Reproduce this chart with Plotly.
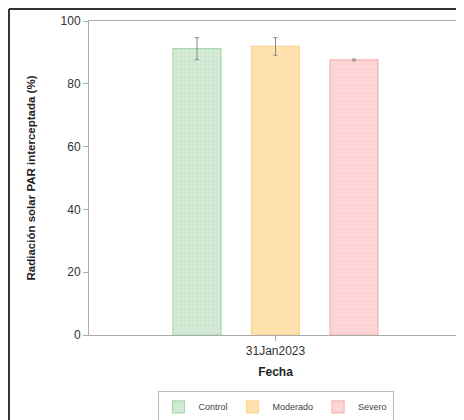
import plotly.graph_objects as go

fecha = ["31Jan2023"]
tratamientos = ["Control", "Moderado", "Severo"]
valores = [91.2, 91.9, 87.6]
errores = [3.5, 2.8, 0.3]
relleno = ["#cfe8d1", "#fee0a8", "#fdd2d3"]
borde = ["#a8d7ad", "#fcd596", "#f6b3b5"]

fig = go.Figure()
for t, v, e, c, b in zip(tratamientos, valores, errores, relleno, borde):
    fig.add_trace(go.Bar(
        x=fecha, y=[v], name=t,
        marker=dict(color=c, line=dict(color=b, width=1.2),
                    pattern=dict(shape=".", size=4, solidity=0.12, fgcolor="#ffffff", fillmode="overlay")),
        error_y=dict(type="data", array=[e], color="#888888", thickness=1, width=2),
    ))

fig.update_layout(
    width=464, height=420,
    margin=dict(l=81, r=10, t=13, b=93, autoexpand=False),
    paper_bgcolor="white", plot_bgcolor="white",
    barmode="group", bargap=0.3685, bargroupgap=0.389,
    font=dict(family="Liberation Sans, Arial, sans-serif", color="#333333", size=11),
    showlegend=True,
    legend=dict(orientation="h", x=0.5, xanchor="center", y=-0.229, yanchor="middle",
                bordercolor="#bbbbbb", borderwidth=1, font=dict(size=9, color="#444444"),
                itemwidth=30, tracegroupgap=0),
    xaxis=dict(range=[-0.5, 0.5], showline=True, linecolor="#aaaaaa", linewidth=1, mirror=True,
               ticks="outside", ticklen=5, tickcolor="#aaaaaa", showgrid=False,
               tickfont=dict(size=12, color="#333333"),
               title=dict(text="<b>Fecha</b>", font=dict(size=12, color="#222222"), standoff=10)),
    yaxis=dict(range=[0, 100], showline=True, linecolor="#aaaaaa", linewidth=1, mirror=True,
               ticks="outside", ticklen=5, tickcolor="#aaaaaa", showgrid=False, zeroline=False,
               tickvals=[0, 20, 40, 60, 80, 100], tickfont=dict(size=12, color="#333333"),
               title=dict(text="<b>Radiación solar PAR interceptada (%)</b>",
                          font=dict(size=11.5, color="#222222"), standoff=22)),
    shapes=[
        dict(type="line", xref="paper", yref="paper", x0=-0.2145, x1=1.03, y0=1.0382, y1=1.0382,
             line=dict(color="#333333", width=2)),
        dict(type="line", xref="paper", yref="paper", x0=-0.2145, x1=-0.2145, y0=1.0382, y1=-0.30,
             line=dict(color="#333333", width=2)),
    ],
)

fig.write_html("out.html")
